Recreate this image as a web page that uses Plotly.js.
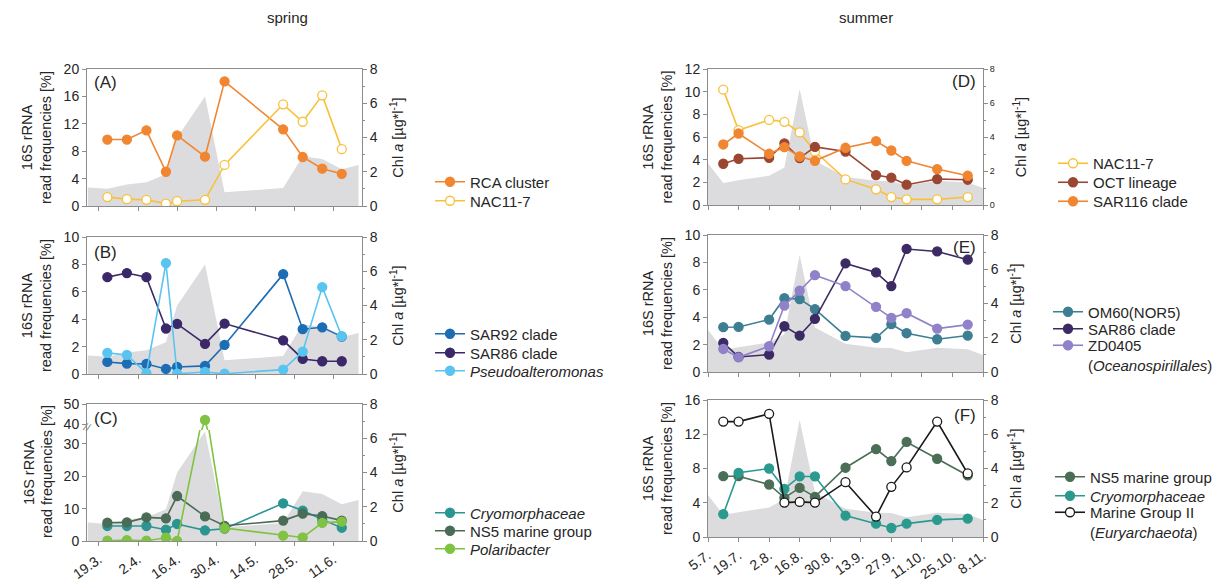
<!DOCTYPE html>
<html><head><meta charset="utf-8">
<script src="https://cdn.plot.ly/plotly-3.0.1.min.js"></script>
<style>html,body{margin:0;padding:0;background:#fff}#chart{width:1224px;height:581px}</style>
</head><body><div id="chart"></div>
<script>
// ---------------- data ----------------
const springDates = ['2016-03-22','2016-03-29','2016-04-05','2016-04-12','2016-04-16','2016-04-26','2016-05-03','2016-05-24','2016-05-31','2016-06-07','2016-06-14'];
const springChlDates = ['2016-03-15','2016-03-22','2016-03-29','2016-04-05','2016-04-12','2016-04-16','2016-04-26','2016-05-03','2016-05-24','2016-05-31','2016-06-07','2016-06-14','2016-06-20'];
const springChl = [1.08, 1.0, 1.25, 1.38, 1.85, 4.0, 6.4, 0.8, 1.05, 2.9, 2.75, 2.15, 2.4];
const rcaCluster = [9.7, 9.7, 11.05, 5.0, 10.3, 7.2, 18.2, 11.2, 7.15, 5.45, 4.7];
const nac117Spring = [1.3, 1.0, 0.9, 0.35, 0.7, 0.9, 6.0, 14.85, 12.3, 16.15, 8.3];
const sar92Clade = [0.88, 0.76, 0.73, 0.37, 0.51, 0.59, 2.12, 7.29, 3.27, 3.41, 2.73];
const sar86Spring = [7.07, 7.37, 7.07, 3.32, 3.66, 2.2, 3.68, 2.46, 1.1, 0.93, 0.93];
const pseudoalteromonas = [1.54, 1.39, 0.07, 8.1, 0.02, 0.15, 0.02, 0.32, 1.63, 6.34, 2.76];
const cryoSpring = [4.64, 4.64, 4.64, 3.5, 5.26, 3.3, 3.8, 11.65, 9.4, 6.6, 4.1];
const ns5Spring = [5.67, 5.77, 7.3, 7.0, 13.9, 7.6, 4.7, 6.3, 8.45, 7.7, 6.3];
const polaribacter = [0.1, 0.3, 0.1, 1.0, 0.0, 42, 4.0, 1.65, 1.1, 5.6, 6.0];

const summerDates = ['2016-07-12','2016-07-19','2016-08-02','2016-08-09','2016-08-16','2016-08-23','2016-09-06','2016-09-20','2016-09-27','2016-10-04','2016-10-18','2016-11-01'];
const summerChlDates = ['2016-07-05','2016-07-12','2016-07-19','2016-08-02','2016-08-09','2016-08-16','2016-08-23','2016-09-06','2016-09-20','2016-09-27','2016-10-04','2016-10-18','2016-11-01','2016-11-08'];
const summerChl = [2.45, 1.3, 1.45, 1.72, 2.2, 6.83, 2.6, 1.65, 1.42, 1.4, 1.15, 1.42, 1.33, 1.0];
const nac117Summer = [10.18, 6.6, 7.51, 7.34, 6.4, 4.72, 2.26, 1.38, 0.7, 0.5, 0.5, 0.7];
const octLineage = [3.64, 4.08, 4.17, 5.43, 4.14, 5.13, 4.72, 2.64, 2.41, 1.79, 2.29, 2.23];
const sar116Clade = [5.34, 6.31, 4.52, 5.1, 4.28, 3.9, 5.05, 5.63, 4.81, 3.9, 3.17, 2.58];
const om60Nor5 = [3.27, 3.29, 3.83, 5.39, 5.32, 4.59, 2.63, 2.49, 3.49, 2.83, 2.39, 2.66];
const sar86Summer = [2.12, 1.1, 1.27, 3.34, 2.66, 3.88, 7.93, 7.27, 6.27, 8.98, 8.8, 8.2];
const zd0405 = [1.68, 1.07, 1.88, 4.85, 5.93, 7.07, 6.27, 4.76, 3.95, 4.29, 3.17, 3.46];
const ns5Summer = [7.1, 7.1, 6.13, 4.57, 5.74, 4.69, 8.09, 10.27, 8.87, 11.1, 9.14, 7.19];
const cryoSummer = [2.66, 7.5, 8.0, 5.63, 7.07, 7.07, 2.5, 1.56, 1.05, 1.56, 2.0, 2.15];
const marineGroupII = [13.48, 13.48, 14.38, 4.02, 4.1, 4.02, 6.4, 2.38, 5.86, 8.13, 13.48, 7.42];

const springTickVals = ['2016-03-19','2016-04-02','2016-04-16','2016-04-30','2016-05-14','2016-05-28','2016-06-11'];
const springTickText = ['19.3.','2.4.','16.4.','30.4.','14.5.','28.5.','11.6.'];
const summerTickVals = ['2016-07-05','2016-07-19','2016-08-02','2016-08-16','2016-08-30','2016-09-13','2016-09-27','2016-10-11','2016-10-25','2016-11-08'];
const summerTickText = ['5.7.','19.7.','2.8.','16.8.','30.8.','13.9.','27.9.','11.10.','25.10.','8.11.'];

// ---------------- styling ----------------
const W = 1224, H = 581;
const px = v => v / W;
const py = v => 1 - v / H;
const FONT = 'Liberation Sans, Arial, sans-serif';
const AX = '#8c8c8c';
const TXT = '#262626';
const GRAY = '#dcdcde';
const LEFT_TITLE = '16S rRNA<br>read frequencies [%]';
const CHL_TITLE = 'Chl <i>a</i> [µg*l<sup>-1</sup>]';
const springRange = ['2016-03-14 17:00', '2016-06-21 06:00'];
const summerRange = ['2016-07-05', '2016-11-08'];
const sDom = [px(87), px(362)];
const uDom = [px(708), px(983)];

function chlTrace(x, y, xa, ya) {
  return {type:'scatter', mode:'lines', x:x, y:y, xaxis:xa, yaxis:ya, fill:'tozeroy',
    fillcolor:GRAY, line:{width:0, color:GRAY}, showlegend:false, hoverinfo:'skip', name:'Chl a'};
}
function series(name, x, y, color, xa, ya, legend, open) {
  return {type:'scatter', mode:'lines+markers', name:name, x:x, y:y, xaxis:xa, yaxis:ya, legend:legend,
    line:{color:color, width:1.6},
    marker:{size:9, color: open ? '#ffffff' : color, line:{color:color, width:1.3}}};
}
function xAxis(domain, range, tv, tt, anchor, labels) {
  return {domain:domain, range:range, type:'date', anchor:anchor, tickmode:'array', tickvals:tv, ticktext:tt,
    showticklabels:labels, ticks:'outside', ticklen:4, tickcolor:AX, tickangle:-35,
    showline:true, mirror:true, linecolor:AX, linewidth:1, showgrid:false, zeroline:false,
    tickfont:{family:FONT, size:14, color:TXT}};
}
function hiddenX(domain, range, anchor) {
  return {domain:domain, range:range, type:'date', anchor:anchor, visible:false, showgrid:false, zeroline:false};
}
function chlAxis(domain, anchor, fsize, standoff) {
  return {domain:domain, anchor:anchor, range:[0,8], side:'right', tick0:0, dtick:2, ticks:'outside', ticklen:4,
    tickcolor:AX, showline:true, mirror:true, linecolor:AX, linewidth:1, showgrid:false, zeroline:false,
    tickfont:{family:FONT, size:fsize, color:TXT},
    minor:{ticks:'outside', ticklen:2, dtick:1, tickcolor:AX},
    title:{text:CHL_TITLE, font:{family:FONT, size:14.5, color:TXT}, standoff:standoff}};
}
function dataAxis(overlaying, anchor, max, dtick, withTitle) {
  const a = {overlaying:overlaying, anchor:anchor, side:'left', range:[0,max], tick0:0, dtick:dtick,
    ticks:'outside', ticklen:4, tickcolor:AX, showline:false, showgrid:false, zeroline:false,
    tickfont:{family:FONT, size:14, color:TXT}};
  if (withTitle) a.title = {text:LEFT_TITLE, font:{family:FONT, size:14.5, color:TXT}, standoff:8};
  return a;
}
function legendAt(x, yc, valign) {
  return {x:px(x), y:py(yc), xanchor:'left', yanchor:'middle', valign:valign || 'middle', bgcolor:'rgba(0,0,0,0)',
    font:{family:FONT, size:15, color:TXT}};
}
function note(text, x, y, xanchor, size, extra) {
  return Object.assign({text:text, x:px(x), y:py(y), xref:'paper', yref:'paper', xanchor:xanchor, yanchor:'middle',
    showarrow:false, font:{family:FONT, size:size, color:TXT}}, extra || {});
}

const C = {
  rca:'#f08632', nac:'#f8c13a', sar92:'#1d6db5', sar86:'#3b2868', pseudo:'#5ac4f0',
  cryo:'#2b9591', ns5:'#4a6b56', polar:'#80c242', oct:'#9a4633', sar116:'#f08632',
  om60:'#3d7e93', sar86s:'#3b2a63', zd:'#9181c8', ns5s:'#4b6e57', cryos:'#2a9a8e', mg2:'#1a1a1a'
};

// ---------------- traces ----------------
const data = [
  // A
  chlTrace(springChlDates, springChl, 'x', 'y'),
  series('RCA cluster', springDates, rcaCluster, C.rca, 'x', 'y7', 'legend', false),
  series('NAC11-7', springDates, nac117Spring, C.nac, 'x', 'y7', 'legend2', true),
  // B
  chlTrace(springChlDates, springChl, 'x2', 'y2'),
  series('SAR92 clade', springDates, sar92Clade, C.sar92, 'x2', 'y8', 'legend3', false),
  series('SAR86 clade', springDates, sar86Spring, C.sar86, 'x2', 'y8', 'legend4', false),
  series('<i>Pseudoalteromonas</i>', springDates, pseudoalteromonas, C.pseudo, 'x2', 'y8', 'legend5', false),
  // C background
  chlTrace(springChlDates, springChl, 'x3', 'y3'),
  // D
  chlTrace(summerChlDates, summerChl, 'x4', 'y4'),
  series('NAC11-7', summerDates, nac117Summer, C.nac, 'x4', 'y10', 'legend9', true),
  series('OCT lineage', summerDates, octLineage, C.oct, 'x4', 'y10', 'legend10', false),
  series('SAR116 clade', summerDates, sar116Clade, C.sar116, 'x4', 'y10', 'legend11', false),
  // E
  chlTrace(summerChlDates, summerChl, 'x5', 'y5'),
  series('OM60(NOR5)', summerDates, om60Nor5, C.om60, 'x5', 'y11', 'legend12', false),
  series('SAR86 clade', summerDates, sar86Summer, C.sar86s, 'x5', 'y11', 'legend13', false),
  series('ZD0405<br>(<i>Oceanospirillales</i>)', summerDates, zd0405, C.zd, 'x5', 'y11', 'legend14', false),
  // F
  chlTrace(summerChlDates, summerChl, 'x6', 'y6'),
  series('NS5 marine group', summerDates, ns5Summer, C.ns5s, 'x6', 'y12', 'legend15', false),
  series('<i>Cryomorphaceae</i>', summerDates, cryoSummer, C.cryos, 'x6', 'y12', 'legend16', false),
  series('Marine Group II<br>(<i>Euryarchaeota</i>)', summerDates, marineGroupII, C.mg2, 'x6', 'y12', 'legend17', true),
  // C (broken axis: lower and upper parts)
  series('<i>Cryomorphaceae</i>', springDates, cryoSpring, C.cryo, 'x13', 'y13', 'legend6', false),
  series('NS5 marine group', springDates, ns5Spring, C.ns5, 'x13', 'y13', 'legend7', false),
  series('<i>Polaribacter</i>', springDates, polaribacter, C.polar, 'x13', 'y13', 'legend8', false),
  Object.assign(series('<i>Polaribacter</i>', springDates, polaribacter, C.polar, 'x14', 'y14', 'legend8', false), {showlegend:false})
];

// ---------------- layout ----------------
const layout = {
  width:W, height:H, margin:{l:0, r:0, t:0, b:0}, paper_bgcolor:'#fff', plot_bgcolor:'rgba(0,0,0,0)',
  font:{family:FONT, size:14, color:TXT}, hovermode:false,
  xaxis:  xAxis(sDom, springRange, springTickVals, springTickText, 'y', false),
  xaxis2: xAxis(sDom, springRange, springTickVals, springTickText, 'y2', false),
  xaxis3: xAxis(sDom, springRange, springTickVals, springTickText, 'y3', true),
  xaxis4: xAxis(uDom, summerRange, summerTickVals, summerTickText, 'y4', false),
  xaxis5: xAxis(uDom, summerRange, summerTickVals, summerTickText, 'y5', false),
  xaxis6: xAxis(uDom, summerRange, summerTickVals, summerTickText, 'y6', true),
  xaxis13: hiddenX(sDom, springRange, 'y13'),
  xaxis14: hiddenX(sDom, springRange, 'y14'),
  yaxis:  chlAxis([py(206), py(69)], 'x', 14, 16),
  yaxis2: chlAxis([py(374), py(237)], 'x2', 14, 16),
  yaxis3: chlAxis([py(541), py(404)], 'x3', 14, 16),
  yaxis4: chlAxis([py(205), py(69)], 'x4', 9, 22),
  yaxis5: chlAxis([py(372), py(235)], 'x5', 14, 13),
  yaxis6: chlAxis([py(537), py(400)], 'x6', 14, 13),
  yaxis7:  dataAxis('y', 'x', 20, 4, true),
  yaxis8:  dataAxis('y2', 'x2', 10, 2, true),
  yaxis10: dataAxis('y4', 'x4', 12, 2, true),
  yaxis11: dataAxis('y5', 'x5', 10, 2, true),
  yaxis12: dataAxis('y6', 'x6', 16, 4, true),
  yaxis13: {domain:[py(541), py(430)], anchor:'x13', side:'left', range:[0, 34.3], tick0:0, dtick:10,
    ticks:'outside', ticklen:4, tickcolor:AX, showline:false, showgrid:false, zeroline:false,
    tickfont:{family:FONT, size:14, color:TXT}},
  yaxis14: {domain:[py(430), py(404)], anchor:'x14', side:'left', range:[37, 50], tickmode:'array', tickvals:[40, 50],
    ticks:'outside', ticklen:4, tickcolor:AX, showline:false, showgrid:false, zeroline:false,
    tickfont:{family:FONT, size:14, color:TXT}},
  legend:   legendAt(430, 182),
  legend2:  legendAt(430, 201),
  legend3:  legendAt(430, 334),
  legend4:  legendAt(430, 353),
  legend5:  legendAt(430, 371),
  legend6:  legendAt(430, 513),
  legend7:  legendAt(430, 531),
  legend8:  legendAt(430, 549),
  legend9:  legendAt(1053, 163.5),
  legend10: legendAt(1053, 182.5),
  legend11: legendAt(1053, 201.5),
  legend12: legendAt(1048, 312),
  legend13: legendAt(1048, 329),
  legend14: legendAt(1048, 355, 'top'),
  legend15: legendAt(1050, 477),
  legend16: legendAt(1050, 496),
  legend17: legendAt(1050, 522, 'top'),
  annotations: [
    note('spring', 287, 18, 'center', 15),
    note('summer', 866, 18, 'center', 15),
    note('(A)', 92, 83, 'left', 17),
    note('(B)', 92, 253, 'left', 17),
    note('(C)', 92, 418, 'left', 17),
    note('(D)', 978, 82, 'right', 17),
    note('(E)', 978, 248, 'right', 17),
    note('(F)', 978, 415, 'right', 17),
    note('//', 87, 427, 'center', 11, {textangle:20, font:{family:FONT, size:11, color:'#888'}}),
    note('16S rRNA', 29, 472, 'center', 14.5, {textangle:-90}),
    note('read frequencies [%]', 47, 472, 'center', 14.5, {textangle:-90})
  ]
};

Plotly.newPlot('chart', data, layout, {staticPlot:true, displayModeBar:false});
</script>
</body></html>
